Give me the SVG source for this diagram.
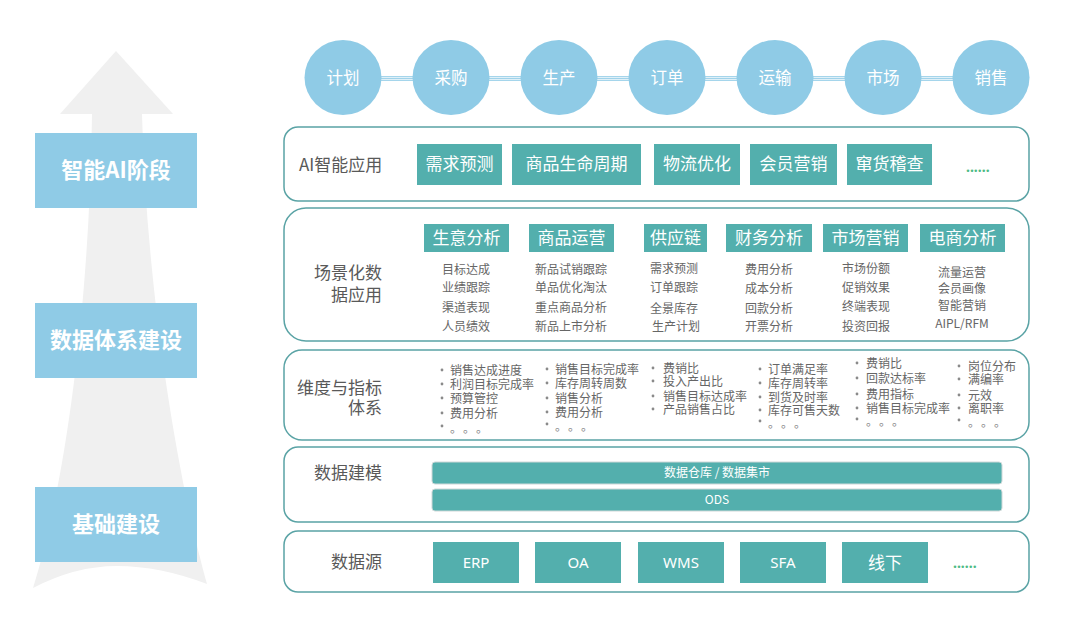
<svg xmlns="http://www.w3.org/2000/svg" width="1080" height="630" viewBox="0 0 1080 630">
<defs>
<style>
.stage{fill:#8FCBE6}
.stageT{font-family:"Noto Sans CJK SC",sans-serif;font-size:22px;font-weight:bold;fill:#ffffff;text-anchor:middle}
.circ{fill:#8FCBE6}
.circT{font-family:"Noto Sans CJK SC",sans-serif;font-size:16.5px;fill:#ffffff;text-anchor:middle}
.panel{fill:#ffffff;stroke:#5AA3A5;stroke-width:1.5}
.plabel{font-family:"Noto Sans CJK SC",sans-serif;font-size:17px;fill:#595959}
.tbox{fill:#53AFAD}
.tboxT{font-family:"Noto Sans CJK SC",sans-serif;font-size:17px;fill:#ffffff;text-anchor:middle}
.item{font-family:"Noto Sans CJK SC",sans-serif;font-size:12px;fill:#666666;text-anchor:middle}
.dim{font-family:"Noto Sans CJK SC",sans-serif;font-size:12px;fill:#666666}
.ell{font-family:"Noto Sans CJK SC",sans-serif;font-size:12px;fill:#8a8a8a;letter-spacing:1px;text-spacing-trim:space-all}
.dot{fill:#8a8a8a}
.more{font-family:"Noto Sans","Noto Sans CJK SC",sans-serif;font-size:14px;fill:#4DBB85;font-weight:bold}
.bar{fill:#53AFAD;stroke:#cfd8d8;stroke-width:1}
.barT{font-family:"Noto Sans CJK SC",sans-serif;font-size:12px;fill:#ffffff;text-anchor:middle}
.srcT{font-family:"Noto Sans","Noto Sans CJK SC",sans-serif;font-size:15px;fill:#ffffff;text-anchor:middle}
</style>
</defs>
<rect width="1080" height="630" fill="#ffffff"/>

<!-- big background arrow -->
<path id="arrow" d="M116,51 L173,114 L142,114 C146,280 175,470 207,584 Q160,566 117,566 Q75,566 33,588 C70,470 90,280 92,114 L60,114 Z" fill="#F0F0F0"/>

<!-- stage boxes -->
<g id="stage-ai"><rect class="stage" x="35" y="133" width="162" height="75"/><text class="stageT" x="116" y="178">智能AI阶段</text></g>
<g id="stage-data"><rect class="stage" x="35" y="303" width="162" height="75"/><text class="stageT" x="116" y="348">数据体系建设</text></g>
<g id="stage-base"><rect class="stage" x="35" y="487" width="162" height="75"/><text class="stageT" x="116" y="532">基础建设</text></g>

<!-- connectors between process circles -->
<g id="connectors">
<rect x="343" y="76.2" width="648" height="4.6" fill="#8FCBE6"/>
<g stroke="#ffffff" stroke-width="0.8"><line x1="343" y1="77.6" x2="991" y2="77.6"/><line x1="343" y1="79.4" x2="991" y2="79.4"/></g>
</g>

<!-- process circles -->
<g id="c1"><ellipse class="circ" cx="343" cy="77.5" rx="38.5" ry="37.5"/><text class="circT" x="343" y="83.5">计划</text></g>
<g id="c2"><ellipse class="circ" cx="451" cy="77.5" rx="38.5" ry="37.5"/><text class="circT" x="451" y="83.5">采购</text></g>
<g id="c3"><ellipse class="circ" cx="559" cy="77.5" rx="38.5" ry="37.5"/><text class="circT" x="559" y="83.5">生产</text></g>
<g id="c4"><ellipse class="circ" cx="667" cy="77.5" rx="38.5" ry="37.5"/><text class="circT" x="667" y="83.5">订单</text></g>
<g id="c5"><ellipse class="circ" cx="775" cy="77.5" rx="38.5" ry="37.5"/><text class="circT" x="775" y="83.5">运输</text></g>
<g id="c6"><ellipse class="circ" cx="883" cy="77.5" rx="38.5" ry="37.5"/><text class="circT" x="883" y="83.5">市场</text></g>
<g id="c7"><ellipse class="circ" cx="991" cy="77.5" rx="38.5" ry="37.5"/><text class="circT" x="991" y="83.5">销售</text></g>

<!-- AI application layer -->
<g id="layer-ai">
<rect class="panel" x="284" y="127" width="745" height="74" rx="14"/>
<text class="plabel" x="299" y="171">AI智能应用</text>
<rect class="tbox" x="417" y="144" width="85" height="41"/><text class="tboxT" x="459.5" y="170">需求预测</text>
<rect class="tbox" x="512" y="144" width="129" height="41"/><text class="tboxT" x="576.5" y="170">商品生命周期</text>
<rect class="tbox" x="654" y="144" width="86" height="41"/><text class="tboxT" x="697" y="170">物流优化</text>
<rect class="tbox" x="750" y="144" width="87" height="41"/><text class="tboxT" x="793.5" y="170">会员营销</text>
<rect class="tbox" x="847" y="144" width="85" height="41"/><text class="tboxT" x="889.5" y="170">窜货稽查</text>
<text class="more" x="966" y="172">......</text>
</g>

<!-- scenario layer -->
<g id="layer-scene">
<rect class="panel" x="284" y="208" width="745" height="133" rx="22"/>
<text class="plabel" x="382" y="279" text-anchor="end">场景化数</text>
<text class="plabel" x="382" y="301" text-anchor="end">据应用</text>
<rect class="tbox" x="424" y="224" width="85" height="28"/><text class="tboxT" x="466.5" y="244">生意分析</text>
<rect class="tbox" x="529" y="224" width="85" height="28"/><text class="tboxT" x="571.5" y="244">商品运营</text>
<rect class="tbox" x="644" y="224" width="63" height="28"/><text class="tboxT" x="675.5" y="244">供应链</text>
<rect class="tbox" x="726" y="224" width="86" height="28"/><text class="tboxT" x="769" y="244">财务分析</text>
<rect class="tbox" x="823" y="224" width="85" height="28"/><text class="tboxT" x="865.5" y="244">市场营销</text>
<rect class="tbox" x="920" y="224" width="85" height="28"/><text class="tboxT" x="962.5" y="244">电商分析</text>
<text class="item" x="466" y="273.5">目标达成</text><text class="item" x="466" y="291.5">业绩跟踪</text><text class="item" x="466" y="311.5">渠道表现</text><text class="item" x="466" y="330.5">人员绩效</text>
<text class="item" x="571" y="273.5">新品试销跟踪</text><text class="item" x="571" y="291.5">单品优化淘汰</text><text class="item" x="571" y="311.5">重点商品分析</text><text class="item" x="571" y="330.5">新品上市分析</text>
<text class="item" x="674" y="272.5">需求预测</text><text class="item" x="674" y="291.5">订单跟踪</text><text class="item" x="674" y="312.5">全景库存</text><text class="item" x="676" y="330.5">生产计划</text>
<text class="item" x="769" y="273.5">费用分析</text><text class="item" x="769" y="292.5">成本分析</text><text class="item" x="769" y="312.5">回款分析</text><text class="item" x="769" y="330.5">开票分析</text>
<text class="item" x="866" y="272.5">市场份额</text><text class="item" x="866" y="291.5">促销效果</text><text class="item" x="866" y="310.5">终端表现</text><text class="item" x="866" y="330.5">投资回报</text>
<text class="item" x="962" y="276.5">流量运营</text><text class="item" x="962" y="292.5">会员画像</text><text class="item" x="962" y="309.5">智能营销</text><text class="item" x="962" y="327.5">AIPL/RFM</text>
</g>

<!-- dimension & metrics layer -->
<g id="layer-dim">
<rect class="panel" x="284" y="350" width="745" height="90" rx="18"/>
<text class="plabel" x="382" y="394" text-anchor="end">维度与指标</text>
<text class="plabel" x="382" y="414" text-anchor="end">体系</text>
<g class="dot">
<circle cx="442" cy="370" r="1.4"/><circle cx="442" cy="384" r="1.4"/><circle cx="442" cy="398" r="1.4"/><circle cx="442" cy="413" r="1.4"/><circle cx="442" cy="426" r="1.4"/>
<circle cx="547" cy="369" r="1.4"/><circle cx="547" cy="383" r="1.4"/><circle cx="547" cy="398" r="1.4"/><circle cx="547" cy="412" r="1.4"/><circle cx="547" cy="424" r="1.4"/>
<circle cx="653" cy="368" r="1.4"/><circle cx="653" cy="381" r="1.4"/><circle cx="653" cy="396" r="1.4"/><circle cx="653" cy="409" r="1.4"/>
<circle cx="760" cy="369" r="1.4"/><circle cx="760" cy="383" r="1.4"/><circle cx="760" cy="397" r="1.4"/><circle cx="760" cy="410" r="1.4"/><circle cx="760" cy="421" r="1.4"/>
<circle cx="857" cy="363" r="1.4"/><circle cx="857" cy="378" r="1.4"/><circle cx="857" cy="394" r="1.4"/><circle cx="857" cy="408" r="1.4"/><circle cx="857" cy="419" r="1.4"/>
<circle cx="959" cy="366" r="1.4"/><circle cx="959" cy="379" r="1.4"/><circle cx="959" cy="395" r="1.4"/><circle cx="959" cy="408" r="1.4"/><circle cx="959" cy="420" r="1.4"/>
</g>
<text class="dim" x="450" y="374.5">销售达成进度</text><text class="dim" x="450" y="388.5">利润目标完成率</text><text class="dim" x="450" y="402.5">预算管控</text><text class="dim" x="450" y="417.5">费用分析</text><text class="ell" x="450" y="433">。。。</text>
<text class="dim" x="555" y="373.5">销售目标完成率</text><text class="dim" x="555" y="387.5">库存周转周数</text><text class="dim" x="555" y="402.5">销售分析</text><text class="dim" x="555" y="416.5">费用分析</text><text class="ell" x="555" y="431">。。。</text>
<text class="dim" x="663" y="372.5">费销比</text><text class="dim" x="663" y="385.5">投入产出比</text><text class="dim" x="663" y="400.5">销售目标达成率</text><text class="dim" x="663" y="413.5">产品销售占比</text>
<text class="dim" x="768" y="373.5">订单满足率</text><text class="dim" x="768" y="387.5">库存周转率</text><text class="dim" x="768" y="401.5">到货及时率</text><text class="dim" x="768" y="414.5">库存可售天数</text><text class="ell" x="768" y="428">。。。</text>
<text class="dim" x="866" y="367.5">费销比</text><text class="dim" x="866" y="382.5">回款达标率</text><text class="dim" x="866" y="398.5">费用指标</text><text class="dim" x="866" y="412.5">销售目标完成率</text><text class="ell" x="866" y="426">。。。</text>
<text class="dim" x="968" y="370.5">岗位分布</text><text class="dim" x="968" y="383.5">满编率</text><text class="dim" x="968" y="399.5">元效</text><text class="dim" x="968" y="412.5">离职率</text><text class="ell" x="968" y="427">。。。</text>
</g>

<!-- data modeling layer -->
<g id="layer-model">
<rect class="panel" x="284" y="447" width="745" height="75" rx="14"/>
<text class="plabel" x="382" y="479" text-anchor="end">数据建模</text>
<rect class="bar" x="432" y="462" width="570" height="22" rx="3"/><text class="barT" x="717" y="477">数据仓库 / 数据集市</text>
<rect class="bar" x="432" y="489" width="570" height="22" rx="3"/><text class="barT" x="717" y="504">ODS</text>
</g>

<!-- data source layer -->
<g id="layer-source">
<rect class="panel" x="284" y="531" width="745" height="61" rx="14"/>
<text class="plabel" x="382" y="568" text-anchor="end">数据源</text>
<rect class="tbox" x="433" y="542" width="86" height="41"/><text class="srcT" x="476" y="568">ERP</text>
<rect class="tbox" x="535" y="542" width="86" height="41"/><text class="srcT" x="578" y="568">OA</text>
<rect class="tbox" x="638" y="542" width="86" height="41"/><text class="srcT" x="681" y="568">WMS</text>
<rect class="tbox" x="740" y="542" width="86" height="41"/><text class="srcT" x="783" y="568">SFA</text>
<rect class="tbox" x="842" y="542" width="86" height="41"/><text class="tboxT" x="885" y="569">线下</text>
<text class="more" x="953" y="568">......</text>
</g>
</svg>
